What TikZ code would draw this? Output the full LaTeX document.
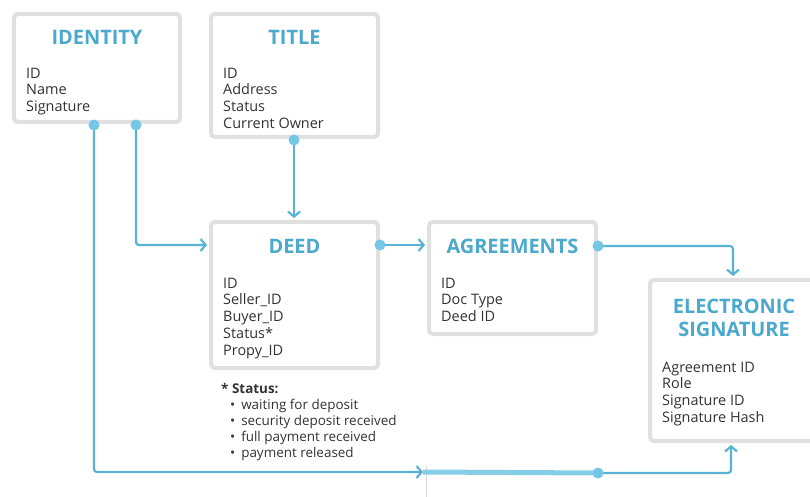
\documentclass[tikz,border=0pt]{standalone}
\usepackage{fontspec}
\setmainfont{Open Sans}
\usetikzlibrary{positioning,arrows.meta}
\definecolor{boxgray}{HTML}{E0E0E0}
\definecolor{headblue}{HTML}{4BA9CD}
\definecolor{linkblue}{HTML}{5AB3D6}
\definecolor{dotblue}{HTML}{74C6E6}
\definecolor{bandblue}{HTML}{86CDE6}
\definecolor{textgray}{HTML}{333333}
\begin{document}
\begin{tikzpicture}[x=1bp,y=-1bp,
	table/.style={draw=boxgray,line width=4bp,rounded corners=4bp,fill=white,inner sep=0pt},
	head/.style={text=headblue,font=\fontsize{20}{23.5}\selectfont\bfseries,align=center,inner sep=0pt},
	fields/.style={text=textgray,font=\fontsize{14.5}{17}\selectfont,align=left,anchor=north west,inner sep=0pt},
	link/.style={draw=linkblue,line width=2.2bp,rounded corners=3bp,-{Straight Barb[length=5bp,width=12bp]}},
	dot/.style={circle,fill=dotblue,inner sep=0pt,minimum size=11bp}]
\useasboundingbox[fill=white] (0,0) rectangle (810,497);
% tables
\node[table,minimum width=166bp,minimum height=108bp] (identity) at (97,68) {};
\node[table,minimum width=167bp,minimum height=123bp] (title) at (294.5,75.5) {};
\node[table,minimum width=167bp,minimum height=146bp] (deed) at (294.5,295) {};
\node[table,minimum width=167bp,minimum height=112bp] (agreements) at (512.5,278) {};
\node[table,minimum width=180bp,minimum height=161bp] (esig) at (740,360.5) {};
% headings
\node[head] (identity-h) at (97,37.5) {IDENTITY};
\node[head] (title-h) at (294.5,37.5) {TITLE};
\node[head] (deed-h) at (294.5,246.5) {DEED};
\node[head] (agreements-h) at (512.5,246.5) {AGREEMENTS};
\node[head] (esig-h) at (734,318) {ELECTRONIC\\SIGNATURE};
% fields
\node[fields] (identity-f) at (26,67.5) {ID\\Name\\Signature};
\node[fields] (title-f) at (223,67.5) {ID\\Address\\Status\\Current Owner};
\node[fields] (deed-f) at (223,277.5) {ID\\Seller\_ID\\Buyer\_ID\\Status*\\Propy\_ID};
\node[fields] (agreements-f) at (441,277.5) {ID\\Doc Type\\Deed ID};
\node[fields] (esig-f) at (662,361.5) {Agreement ID\\Role\\Signature ID\\Signature Hash};
\node[fields,font=\fontsize{13.5}{16}\selectfont] (status) at (221,383.5) {{\bfseries * Status:}\\
	\hspace{9bp}\textbullet\hspace{6bp}waiting for deposit\\
	\hspace{9bp}\textbullet\hspace{6bp}security deposit received\\
	\hspace{9bp}\textbullet\hspace{6bp}full payment received\\
	\hspace{9bp}\textbullet\hspace{6bp}payment released};
% end points
\coordinate (deed-in) at (207,245);
\coordinate (deed-top) at (294,218);
\coordinate (agr-in) at (425,245);
\coordinate (esig-top) at (733,276);
\coordinate (esig-bot) at (731,445);
\coordinate (band-a) at (423,472);
% connectors
\draw[gray!30,line width=0.8bp] (426,465) -- (426,497);
\draw[link] (94,125) -- (94,472) -- (band-a);
\draw[bandblue,line width=5bp] (band-a) -- (598,473);
\draw[link] (136,125) |- (deed-in);
\draw[link] (294,140) -- (deed-top);
\draw[link] (380,245) -- (agr-in);
\draw[link] (598,246) -| (esig-top);
\draw[link] (598,473) -| (esig-bot);
% dots
\node[dot] (id-a) at (94,125) {};
\node[dot] (id-b) at (136,125) {};
\node[dot] (title-out) at (294,140) {};
\node[dot] (deed-out) at (380,245) {};
\node[dot] (agr-out) at (598,246) {};
\node[dot] (band-out) at (598,473) {};
\end{tikzpicture}
\end{document}
